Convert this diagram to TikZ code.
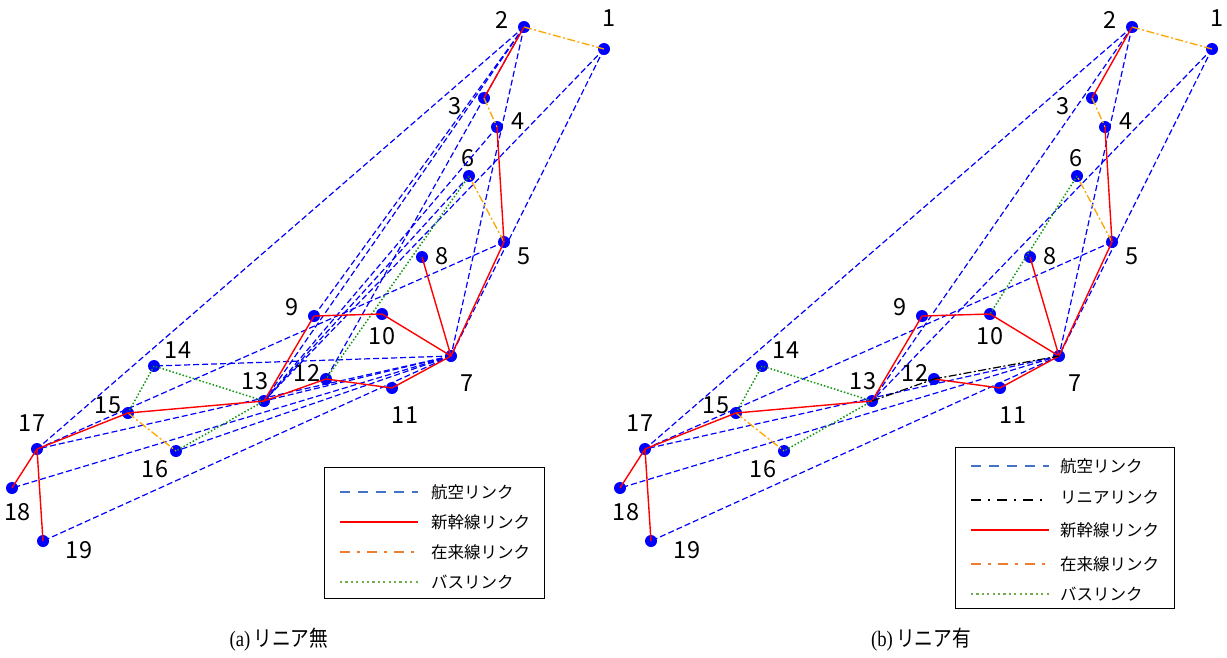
\documentclass[tikz,border=0pt]{standalone}
\usepackage{fontspec}
\usepackage{graphicx}
\setmainfont{Liberation Serif}
\newfontfamily\jp{Noto Sans CJK JP}
\definecolor{nodeblue}{RGB}{0,0,255}
\definecolor{airblue}{RGB}{0,0,255}
\definecolor{zaiorange}{RGB}{255,165,0}
\definecolor{busgreen}{RGB}{20,150,20}
\definecolor{legblue}{RGB}{68,114,196}
\definecolor{legorange}{RGB}{237,125,49}
\definecolor{leggreen}{RGB}{112,173,71}
\tikzset{
 nd/.style={circle, fill=nodeblue, inner sep=0pt, minimum size=12pt},
 air/.style={draw=airblue, line width=1.2pt, dash pattern=on 6pt off 3pt},
 shin/.style={draw=red, line width=1.4pt},
 zai/.style={draw=zaiorange, line width=1.3pt, dash pattern=on 8pt off 2.5pt on 2pt off 2.5pt},
 bus/.style={draw=busgreen, line width=1.5pt, dash pattern=on 1.5pt off 2pt},
 lin/.style={draw=black, line width=1.2pt, dash pattern=on 8pt off 2.5pt on 2pt off 2.5pt},
 num/.style={font=\jp\fontsize{23.5}{23.5}\selectfont, inner sep=0pt},
 legtext/.style={font=\jp\fontsize{16.5}{16.5}\selectfont, anchor=west, inner sep=0pt},
 legbox/.style={draw=black, line width=1pt, inner sep=0pt},
 lair/.style={draw=legblue, line width=2.4pt, dash pattern=on 10pt off 8pt},
 lshin/.style={draw=red, line width=2.6pt},
 lzai/.style={draw=legorange, line width=2.4pt, dash pattern=on 10pt off 7pt on 3pt off 7pt},
 lbus/.style={draw=leggreen, line width=2.4pt, dash pattern=on 2.2pt off 3.2pt},
 llin/.style={draw=black, line width=2.4pt, dash pattern=on 10pt off 7pt on 2pt off 7pt},
 captext/.style={inner sep=0pt},
}
\def\nodelist{1/604/49,2/524/27,3/484/98,4/497/127,5/504/242,6/469/176,7/451/356,8/422/257,9/314/316,10/382/314,11/392/388,12/326/379,13/264/401,14/154/366,15/128/413,16/176/451,17/37/449,18/12/488,19/43/541}
\def\lablist{1/609/18,2/502/20,3/455/106,4/518/121,5/524/256,6/468/158,7/467/383,8/442/256,9/292/307,10/382/336,11/405/415,12/307/373,13/255/381,14/178/350,15/108/405,16/155/469,17/32/423,18/18/512,19/79/550}
\begin{document}
\begin{tikzpicture}[x=1pt,y=-1pt]
\path[use as bounding box] (0,0) rectangle (1227,657);
% nodes and labels
\foreach \p/\dx in {L/0,R/608}{
  \foreach \n/\x/\y in \nodelist { \node[nd] (\p\n) at (\x+\dx,\y) {}; }
  \foreach \n/\x/\y in \lablist { \node[num] (\p lab\n) at (\x+\dx,\y) {\n}; }
}
% ---------- (a) ----------
\foreach \a/\b in {2/17,2/13,2/12,2/9,2/7,1/7,1/13,4/13,6/13,5/17,7/17,7/18,7/19,7/16,7/14,7/13}
  \draw[air] (L\a.center) -- (L\b.center);
\foreach \a/\b in {6/12,14/15,13/14,13/16}
  \draw[bus] (L\a.center) -- (L\b.center);
\foreach \a/\b in {1/2,3/4,5/6,15/16}
  \draw[zai] (L\a.center) -- (L\b.center);
\foreach \a/\b in {2/3,4/5,5/7,7/8,7/10,9/10,9/13,7/11,11/12,12/13,13/15,15/17,17/18,17/19}
  \draw[shin] (L\a.center) -- (L\b.center);
% ---------- (b) ----------
\foreach \a/\b in {2/17,2/13,2/7,1/7,1/13,5/17,7/17,7/18,7/19}
  \draw[air] (R\a.center) -- (R\b.center);
\foreach \a/\b in {6/10,14/15,13/14,13/16}
  \draw[bus] (R\a.center) -- (R\b.center);
\foreach \a/\b in {1/2,3/4,5/6,15/16}
  \draw[zai] (R\a.center) -- (R\b.center);
\foreach \a/\b in {2/3,4/5,5/7,7/8,7/10,9/10,9/13,7/11,11/12,13/15,15/17,17/18,17/19}
  \draw[shin] (R\a.center) -- (R\b.center);
\foreach \a/\b in {13/12,12/7}
  \draw[lin] (R\a.center) -- (R\b.center);
% ---------- legend (a) ----------
\node[legbox, minimum width=220pt, minimum height=131pt] (legA) at (434,532.5) {};
\coordinate (a1s) at (340,492); \coordinate (a1e) at (418,492);
\coordinate (a2s) at (340,522); \coordinate (a2e) at (418,522);
\coordinate (a3s) at (340,552); \coordinate (a3e) at (418,552);
\coordinate (a4s) at (340,582); \coordinate (a4e) at (418,582);
\draw[lair] (a1s) -- (a1e);
\draw[lshin] (a2s) -- (a2e);
\draw[lzai] (a3s) -- (a3e);
\draw[lbus] (a4s) -- (a4e);
\node[legtext] (ta1) at (431,492) {航空リンク};
\node[legtext] (ta2) at (431,522) {新幹線リンク};
\node[legtext] (ta3) at (431,552) {在来線リンク};
\node[legtext] (ta4) at (431,582) {バスリンク};
% ---------- legend (b) ----------
\node[legbox, minimum width=219pt, minimum height=161pt] (legB) at (1064.5,527.5) {};
\coordinate (b1s) at (971,466); \coordinate (b1e) at (1049,466);
\coordinate (b2s) at (971,500); \coordinate (b2e) at (1049,500);
\coordinate (b3s) at (971,530); \coordinate (b3e) at (1049,530);
\coordinate (b4s) at (971,564); \coordinate (b4e) at (1049,564);
\coordinate (b5s) at (971,594); \coordinate (b5e) at (1049,594);
\draw[lair] (b1s) -- (b1e);
\draw[llin] (b2s) -- (b2e);
\draw[lshin] (b3s) -- (b3e);
\draw[lzai] (b4s) -- (b4e);
\draw[lbus] (b5s) -- (b5e);
\node[legtext] (tb1) at (1060,466) {航空リンク};
\node[legtext] (tb2) at (1060,497) {リニアリンク};
\node[legtext] (tb3) at (1060,530) {新幹線リンク};
\node[legtext] (tb4) at (1060,564) {在来線リンク};
\node[legtext] (tb5) at (1060,594) {バスリンク};
% ---------- captions ----------
\node[captext] (capA) at (279,640) {\scalebox{0.85}[1]{\fontsize{22}{22}\selectfont(a)\,{\jp リニア無}}};
\node[captext] (capB) at (921,640) {\scalebox{0.85}[1]{\fontsize{22}{22}\selectfont(b)\,{\jp リニア有}}};
\end{tikzpicture}
\end{document}
